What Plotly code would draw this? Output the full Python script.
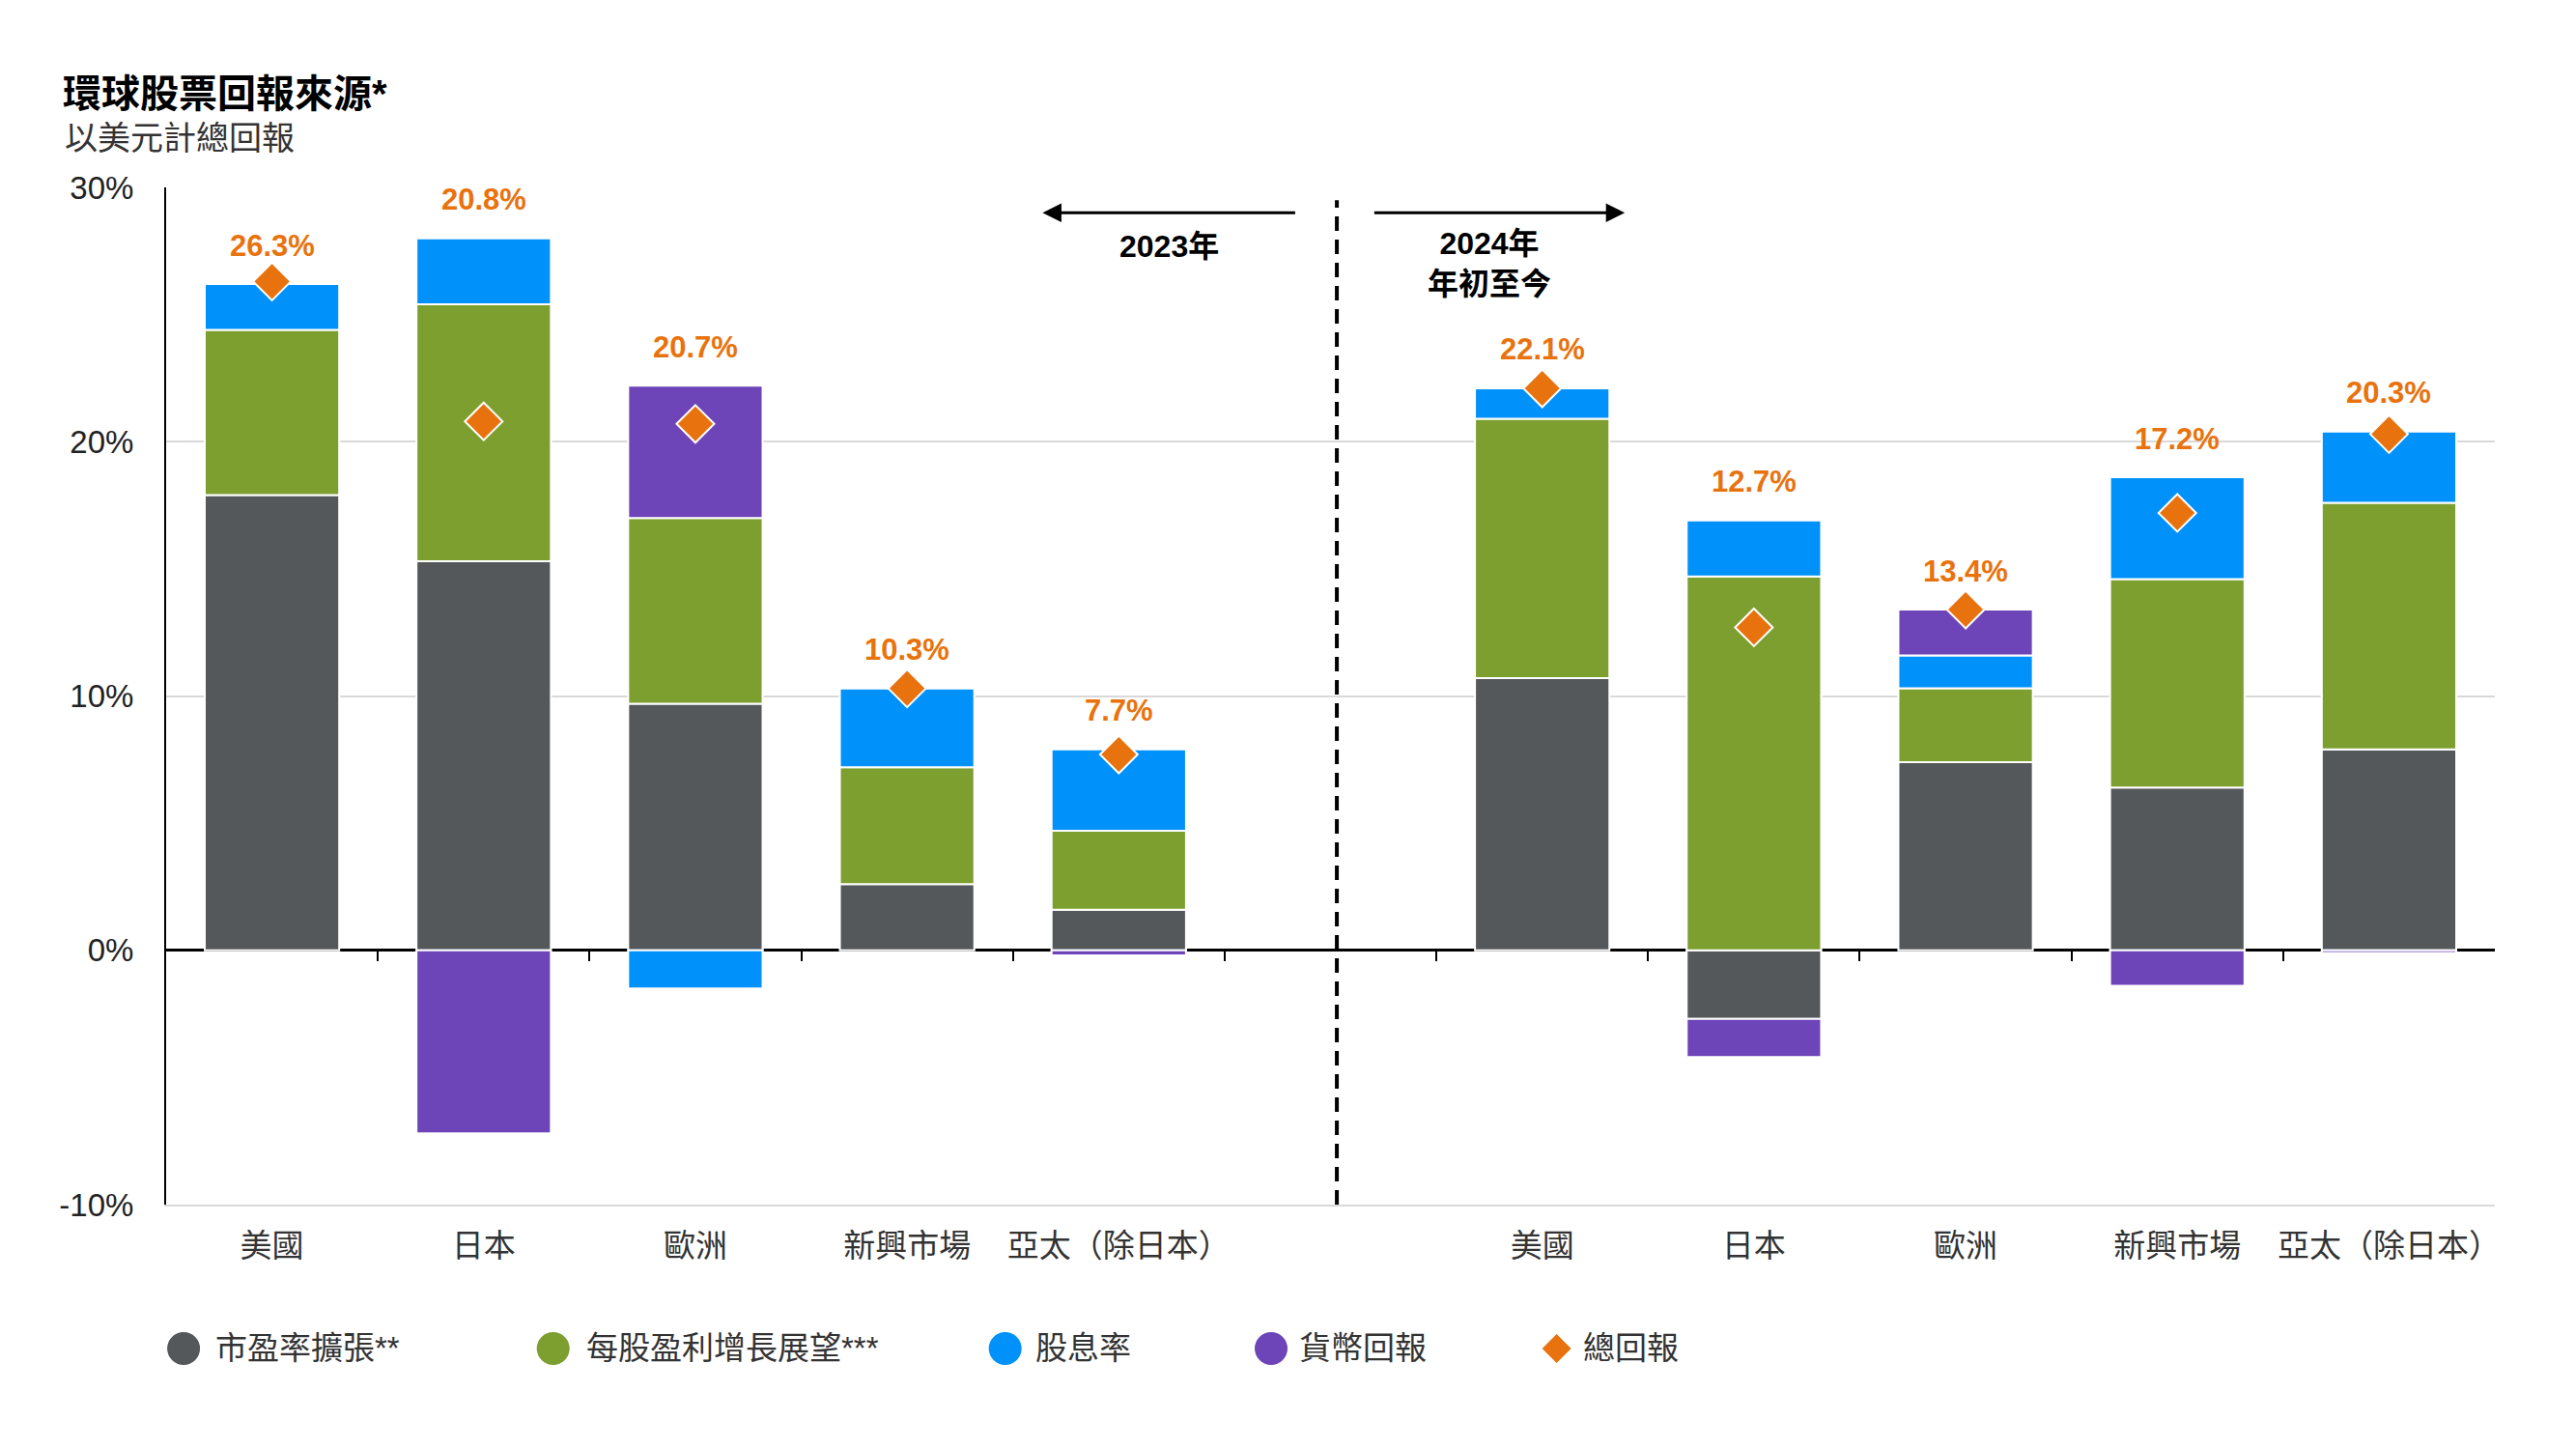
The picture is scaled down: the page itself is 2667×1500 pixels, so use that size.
import plotly.graph_objects as go

# ---------------- data ----------------
regions = ["美國", "日本", "歐洲", "新興市場", "亞太（除日本）"]

pe_2023 = [17.9, 15.3, 9.7, 2.6, 1.6]
eps_2023 = [6.5, 10.1, 7.3, 4.6, 3.1]
div_2023 = [1.8, 2.6, -1.5, 3.1, 3.2]
fx_2023 = [0.0, -7.2, 5.2, 0.0, -0.2]
total_2023 = [26.3, 20.8, 20.7, 10.3, 7.7]

pe_2024 = [10.7, -2.7, 7.4, 6.4, 7.9]
eps_2024 = [10.2, 14.7, 2.9, 8.2, 9.7]
div_2024 = [1.2, 2.2, 1.3, 4.0, 2.8]
fx_2024 = [0.0, -1.5, 1.8, -1.4, -0.1]
total_2024 = [22.1, 12.7, 13.4, 17.2, 20.3]

series_names = ["市盈率擴張**", "每股盈利增長展望***", "股息率", "貨幣回報"]
total_name = "總回報"
y_ticks = [-10, 0, 10, 20, 30]
y_ticktext = ["-10%", "0%", "10%", "20%", "30%"]

# ---------------- styles ----------------
FONT = "Liberation Sans, Arial, Noto Sans CJK TC, sans-serif"
GRAY = "#54585A"
GREEN = "#7D9F2F"
BLUE = "#0091FA"
PURPLE = "#6E44B9"
ORANGE = "#E8730E"
colors = [GRAY, GREEN, BLUE, PURPLE]

# page has an 8px body margin: figure is sized to fit inside it
W, H = 2651, 1484

n = len(regions)
x23 = list(range(n))
x24 = [i + n + 1 for i in range(n)]
xs = x23 + x24
gap_slot = n
labels = regions + regions

comp = [pe_2023 + pe_2024, eps_2023 + eps_2024, div_2023 + div_2024, fx_2023 + fx_2024]
totals = total_2023 + total_2024

fig = go.Figure()

for name, vals, col in zip(series_names, comp, colors):
    fig.add_trace(go.Bar(
        x=xs, y=vals, name=name, width=0.635,
        marker=dict(color=col, line=dict(color="white", width=2)),
        showlegend=False,
    ))

fig.add_trace(go.Scatter(
    x=xs, y=totals, mode="markers", name=total_name,
    marker=dict(symbol="diamond", size=30, color=ORANGE, line=dict(color="white", width=2)),
    showlegend=False,
))

# dummy trace for the tick axis at zero
fig.add_trace(go.Scatter(x=[None], y=[None], xaxis="x2", yaxis="y", showlegend=False,
                         hoverinfo="skip"))

# value labels above bars
annotations = []
for xi, t, *vals in zip(xs, totals, *comp):
    top = sum(v for v in vals if v > 0)
    annotations.append(dict(
        x=xi, y=top, xref="x", yref="y", text=f"<b>{t:.1f}%</b>",
        showarrow=False, yshift=40, yanchor="middle",
        font=dict(family=FONT, size=31, color=ORANGE),
    ))

# period arrows and labels
annotations += [
    dict(x=3.64, y=29, ax=4.84, ay=29, xref="x", yref="y", axref="x", ayref="y",
         text="", showarrow=True, arrowhead=2, arrowsize=1.3, arrowwidth=3, arrowcolor="black"),
    dict(x=6.39, y=29, ax=5.20, ay=29, xref="x", yref="y", axref="x", ayref="y",
         text="", showarrow=True, arrowhead=2, arrowsize=1.3, arrowwidth=3, arrowcolor="black"),
    dict(x=4.24, y=27.7, xref="x", yref="y", text="<b>2023年</b>", showarrow=False,
         font=dict(family=FONT, size=32, color="black")),
    dict(x=5.75, y=27.0, xref="x", yref="y", text="<b>2024年<br>年初至今</b>", showarrow=False,
         font=dict(family=FONT, size=32, color="black")),
    dict(x=-0.0444, y=1.0484, xref="paper", yref="paper", xanchor="left", yanchor="middle",
         text="以美元計總回報", showarrow=False,
         font=dict(family=FONT, size=34, color="#333333")),
]

# custom legend (large symbols)
legend_sym_x = [0.0075, 0.1662, 0.3603, 0.4745, 0.5971]
legend_txt_x = [0.0205, 0.1795, 0.3725, 0.4855, 0.6075]
legend_y = -0.1415
legend_names = series_names + [total_name]
legend_colors = colors + [ORANGE]

shapes = [dict(type="line", xref="x", yref="y", x0=gap_slot + 0.03, x1=gap_slot + 0.03,
               y0=y_ticks[0], y1=29.5,
               line=dict(color="black", width=4, dash="15px,9px"))]
for i, (sx, tx, nm, col) in enumerate(zip(legend_sym_x, legend_txt_x, legend_names, legend_colors)):
    if i < 4:
        shapes.append(dict(type="circle", xref="paper", yref="paper",
                           xsizemode="pixel", ysizemode="pixel", xanchor=sx, yanchor=legend_y,
                           x0=-17, x1=17, y0=-17, y1=17, fillcolor=col, line=dict(width=0)))
    else:
        shapes.append(dict(type="path", xref="paper", yref="paper",
                           xsizemode="pixel", ysizemode="pixel", xanchor=sx, yanchor=legend_y,
                           path="M 0 -15 L 15 0 L 0 15 L -15 0 Z", fillcolor=col, line=dict(width=0)))
    annotations.append(dict(x=tx, y=legend_y, xref="paper", yref="paper", xanchor="left",
                            yanchor="middle", text=nm, showarrow=False,
                            font=dict(family=FONT, size=33, color="#333333")))

ymin, ymax = y_ticks[0], y_ticks[-1]
zero_pos = (0 - ymin) / (ymax - ymin)
boundaries = [i + 0.5 for i in range(n)] + [i + n + 0.5 for i in range(n)]

fig.update_layout(
    width=W, height=H,
    margin=dict(l=164, r=76, t=186, b=245),
    paper_bgcolor="white", plot_bgcolor="white",
    barmode="relative",
    showlegend=False,
    font=dict(family=FONT, size=32, color="#222222"),
    title=dict(text="<b>環球股票回報來源*</b>", x=57 / W, xanchor="left", xref="container",
               y=1 - 89 / H, yanchor="middle", yref="container",
               font=dict(family=FONT, size=40, color="black")),
    xaxis=dict(range=[-0.5, len(xs) + 0.5], tickvals=xs, ticktext=labels,
               showgrid=False, zeroline=False, ticks="", showline=True,
               linecolor="#D9D9D9", linewidth=2, ticklabelstandoff=12,
               tickfont=dict(family=FONT, size=33, color="#333333")),
    xaxis2=dict(overlaying="x", anchor="free", position=zero_pos, side="bottom",
                range=[-0.5, len(xs) + 0.5], tickvals=boundaries, showticklabels=False,
                ticks="outside", ticklen=10, tickwidth=2, tickcolor="black",
                showgrid=False, zeroline=False, showline=False),
    yaxis=dict(range=[ymin, ymax], tickvals=y_ticks, ticktext=y_ticktext,
               showgrid=True, gridcolor="#D9D9D9", gridwidth=2,
               showline=True, linecolor="black", linewidth=2,
               zeroline=True, zerolinecolor="black", zerolinewidth=3,
               ticklabelstandoff=25,
               tickfont=dict(family=FONT, size=33, color="#222222")),
    annotations=annotations,
    shapes=shapes,
)

fig.write_html("out.html")
